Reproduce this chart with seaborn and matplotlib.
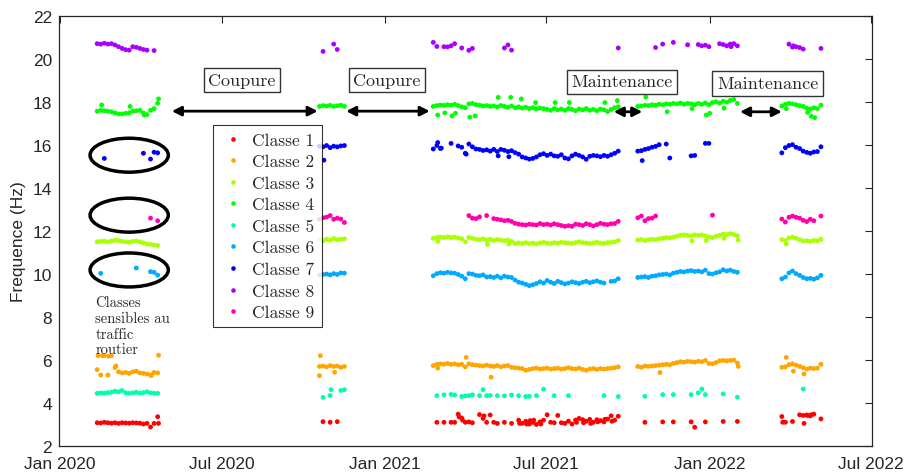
import numpy as np
import pandas as pd
import matplotlib
matplotlib.use("Agg")
import matplotlib.pyplot as plt
import matplotlib.dates as mdates
from matplotlib.patches import Ellipse
import seaborn as sns

NA = np.nan

# measurement campaigns: first day, number of samples (one sample every 4 days)
seg_starts = ["2020-02-12", "2020-10-19", "2021-02-24", "2021-10-12", "2022-03-23"]
seg_counts = [18, 8, 53, 29, 12]

class_names = ["Classe %d" % k for k in range(1, 10)]
colors = ["#ff0000", "#ffa500", "#aaff00", "#00ff00", "#00ffaa",
          "#00aaff", "#0000ff", "#aa00ff", "#ff00aa"]

# frequencies (Hz), one list per campaign
classe1 = [
    [3.08, 3.07, 3.10, 3.08, 3.06, 3.08, 3.05, 3.08, 3.07, 3.06, 3.08, 3.07, 3.06, 3.02, 3.05, 2.88, 3.05, 3.36],
    [NA, 3.13, NA, 3.10, NA, 3.13, NA, NA],
    [NA, 3.10, NA, 3.10, NA, 3.10, 3.10, 3.48, 3.30, 3.10,
     3.12, 3.08, NA, 3.46, 3.28, 3.10, 3.44, 3.10, 3.05, NA,
     3.10, NA, 3.05, NA, 3.20, 3.05, 3.15, 3.02, 3.10, 3.00,
     3.12, 3.20, 3.45, 3.10, 3.08, 3.42, 3.08, 3.05, 3.15, 3.02,
     3.20, 3.28, 3.22, 3.15, 3.24, 3.10, 3.22, 3.18, 3.12, 3.25,
     3.40, 3.20, 3.38],
    [NA, NA, 3.10, NA, NA, NA, NA, 3.12, NA, NA,
     3.12, NA, NA, NA, NA, 3.12, 2.87, NA, NA, 3.12,
     NA, NA, NA, NA, 3.14, NA, NA, NA, 3.14],
    [3.37, 3.10, NA, 3.14, NA, 3.45, 3.42, 3.44, 3.40, 3.48, NA, 3.26],
]
classe2 = [
    [5.55, 5.30, 6.20, 5.30, 6.20, 5.65, 5.45, 5.40, 5.42, 5.38, 5.45, 5.48, 5.40, 5.38, 5.35, 5.30, 5.42, 5.40],
    [5.70, 5.72, 5.68, 5.74, 5.70, 5.72, 5.66, 5.70],
    [5.74, 5.80, 5.82, 5.80, 5.84, 5.80, 5.82, 5.78, 5.80, 5.68,
     5.82, 5.78, 5.76, 5.74, 5.72, 5.76, 5.72, 5.70, 5.74, 5.68,
     5.72, 5.74, 5.66, 5.64, 5.62, 5.60, 5.52, 5.56, 5.60, 5.62,
     5.58, 5.60, 5.62, 5.58, 5.60, 5.62, 5.58, 5.60, 5.64, 5.60,
     5.58, 5.62, 5.56, 5.52, 5.58, 5.60, 5.56, 5.60, 5.58, 5.60,
     5.62, 5.64, 5.68],
    [5.70, 5.66, 5.72, 5.70, 5.72, 5.74, 5.76, 5.78, 5.80, 5.78,
     5.84, 5.88, 5.92, 5.90, 5.94, 5.92, 5.90, 5.94, 5.92, 5.98,
     5.84, 5.82, 5.88, 5.96, 5.98, 5.96, 5.98, 6.00, 5.86],
    [5.66, 5.68, 5.78, 5.82, 5.76, 5.70, 5.64, 5.58, 5.62, 5.60, 5.62, 5.80],
]
classe3 = [
    [11.50, 11.52, 11.53, 11.50, 11.54, 11.58, 11.56, 11.52, 11.50, 11.48, 11.52, 11.54, 11.50, 11.45, 11.40, 11.38, 11.35, 11.33],
    [11.60, 11.55, 11.62, 11.58, 11.65, 11.60, 11.62, 11.64],
    [11.66, 11.70, 11.72, 11.70, 11.74, 11.70, 11.72, 11.68, 11.64, 11.50,
     11.70, 11.66, 11.62, 11.60, 11.64, 11.58, 11.62, 11.56, 11.60, 11.58,
     11.55, 11.58, 11.52, 11.42, 11.45, 11.42, 11.46, 11.42, 11.44, 11.40,
     11.45, 11.48, 11.44, 11.42, 11.46, 11.44, 11.48, 11.46, 11.44, 11.42,
     11.46, 11.50, 11.46, 11.44, 11.42, 11.45, 11.48, 11.44, 11.42, 11.46,
     11.48, 11.50, 11.56],
    [11.58, 11.60, 11.56, 11.60, 11.62, 11.60, 11.64, 11.66, 11.70, 11.68,
     11.72, 11.76, 11.80, 11.82, 11.80, 11.78, 11.82, 11.80, 11.82, 11.78,
     11.72, 11.70, 11.76, 11.80, 11.86, 11.84, 11.88, 11.84, 11.78],
    [11.60, 11.56, 11.68, 11.72, 11.66, 11.60, 11.54, 11.55, 11.52, 11.56, 11.55, 11.62],
]
classe4 = [
    [17.58, 17.62, 17.60, 17.58, 17.55, 17.50, 17.45, 17.45, 17.48, 17.50, 17.58, 17.60, 17.62, 17.50, 17.42, 17.62, 17.70, 17.95],
    [17.80, 17.84, 17.82, 17.85, 17.80, 17.83, 17.86, 17.80],
    [17.80, 17.84, 17.86, 17.85, 17.88, 17.86, 17.90, 17.84, 17.78, 17.74,
     17.92, 17.94, 17.88, 17.86, 17.82, 17.84, 17.80, 17.82, 17.78, 17.84,
     17.80, 17.76, 17.82, 17.74, 17.78, 17.72, 17.76, 17.70, 17.74, 17.68,
     17.72, 17.70, 17.66, 17.62, 17.70, 17.64, 17.68, 17.62, 17.70, 17.66,
     17.60, 17.68, 17.64, 17.70, 17.62, 17.66, 17.60, 17.68, 17.64, 17.56,
     17.66, 17.74, 17.78],
    [17.80, 17.82, 17.85, 17.84, 17.88, 17.86, 17.90, 17.88, 17.92, 17.90,
     17.94, 17.92, 17.96, 17.90, 17.94, 17.92, 17.88, 17.94, 17.90, 17.96,
     17.88, 17.98, 18.02, 17.96, 18.04, 18.00, 18.08, 18.12, 17.94],
    [17.82, 17.90, 17.94, 17.92, 17.88, 17.84, 17.80, 17.72, 17.68, 17.74, 17.70, 17.86],
]
classe5 = [
    [4.45, 4.47, 4.45, 4.48, 4.50, 4.55, 4.52, 4.58, 4.48, 4.45, 4.47, 4.50, 4.46, 4.48, 4.52, 4.47, 4.45, 4.45],
    [NA, 4.26, NA, 4.35, NA, NA, 4.58, 4.62],
    [NA, 4.34, NA, 4.38, NA, 4.40, 4.37, NA, 4.30, 4.33,
     4.34, 4.38, NA, 4.34, 4.62, 4.34, 4.35, NA, 4.34, NA,
     4.33, NA, 4.37, NA, 4.34, NA, 4.30, 4.31, NA, 4.34,
     NA, 4.64, NA, NA, 4.34, NA, NA, NA, 4.34, NA]
    + [NA] * 8 + [4.34, NA, NA, NA, 4.30],
    [NA, NA, 4.31, NA, NA, NA, NA, 4.39, NA, NA,
     4.39, NA, NA, NA, NA, 4.39, NA, 4.47, 4.65, 4.39,
     NA, NA, NA, NA, 4.42, NA, NA, NA, 4.27],
    [NA] * 6 + [4.65] + [NA] * 5,
]
classe6 = [
    [NA, 10.03, NA, NA, NA, NA, NA, NA, NA, NA, NA, 10.28, NA, NA, NA, 10.11, 10.08, 9.95],
    [9.95, 9.98, 10.00, 9.96, 10.02, 9.98, 10.05, 10.04],
    [9.92, 10.02, 10.06, 10.04, 10.08, 10.05, 10.04, 9.98, 9.90, 9.78,
     10.02, 10.00, 9.94, 9.92, 9.96, 9.86, 9.88, 9.84, 9.90, 9.82,
     9.90, 9.86, 9.84, 9.72, 9.62, 9.58, 9.52, 9.46, 9.50, 9.56,
     9.64, 9.58, 9.70, 9.62, 9.56, 9.66, 9.60, 9.54, 9.58, 9.64,
     9.60, 9.56, 9.62, 9.66, 9.60, 9.64, 9.68, 9.62, 9.58, NA,
     9.66, 9.68, 9.78],
    [9.84, 9.86, 9.88, 9.84, 9.90, 9.92, 9.96, 9.98, 10.00, 9.96,
     10.04, 10.08, 10.12, 10.10, 10.14, 10.16, 10.12, 10.14, 10.10, 10.18,
     10.02, 10.00, 10.06, 10.10, 10.20, 10.14, 10.18, 10.12, 10.08],
    [9.78, 9.86, 10.05, 10.14, 10.02, 9.94, 9.84, 9.78, 9.80, 9.76, 9.82, 9.94],
]
classe7 = [
    [NA, NA, 15.38] + [NA] * 10 + [15.62, NA, 15.35, 15.67, 15.64],
    [15.95, 15.92, 15.98, 15.88, 15.95, 15.92, 15.96, 15.98],
    [15.82, 15.98, 15.84, NA, NA, 16.08, NA, 15.96, 15.90, 15.62,
     16.05, 15.92, 15.82, 15.80, 15.75, 15.78, 15.72, 15.80, 15.70, 15.80,
     15.76, 15.70, 15.74, 15.65, 15.58, 15.45, 15.40, 15.35, 15.38, 15.45,
     15.55, 15.60, 15.52, 15.58, 15.50, 15.48, 15.55, 15.40, 15.36, 15.50,
     15.58, 15.52, 15.45, 15.34, 15.48, 15.52, 15.50, 15.46, 15.52, 15.48,
     15.55, 15.62, 15.72],
    [15.72, 15.74, 15.80, 15.84, 15.90, 15.94, 16.02, NA, 16.05, 15.40,
     NA, NA, NA, NA, NA, 15.50, 15.52, NA, NA, 16.08,
     16.08] + [NA] * 8,
    [15.64, 15.88, 15.98, 16.02, 15.90, 15.84, 15.72, 15.66, 15.62, 15.68, 15.70, 15.92],
]
classe8 = [
    [20.72, 20.70, 20.74, 20.70, 20.72, 20.66, 20.58, 20.50, 20.44, 20.42, 20.58, 20.55, 20.50, 20.45, 20.42, NA, 20.40, NA],
    [NA, 20.36, NA, NA, 20.70, 20.45, NA, NA],
    [20.78, 20.59, NA, 20.58, 20.57, 20.62, 20.72, NA, 20.52, NA, 20.41, 20.50]
    + [NA] * 8 + [20.52, 20.66, 20.42] + [NA] * 29 + [20.52],
    [NA] * 5 + [20.54, NA, 20.70, NA, NA, 20.78, NA, NA, NA, 20.67, NA, NA, 20.68,
                20.62, 20.65, 20.58, NA, NA, 20.72, 20.68, 20.62, 20.70, 20.72, 20.62],
    [NA, NA, 20.70, 20.56, 20.58, 20.54, 20.47, NA, NA, NA, NA, 20.50],
]
classe9 = [
    [NA] * 15 + [12.60, NA, 12.48],
    [12.55, 12.62, 12.65, 12.72, 12.55, 12.60, 12.56, 12.40],
    [NA] * 10
    + [12.72, 12.60, 12.58, 12.66, NA, 12.72, NA, 12.58, 12.55, 12.52,
       12.48, 12.50, 12.45, 12.36, 12.32, 12.30, 12.28, 12.32, 12.30, 12.28,
       12.35, 12.30, 12.32, 12.28, 12.34, 12.30, 12.26, 12.22, 12.25, 12.22,
       12.32, 12.30, 12.26, 12.34, 12.30, 12.24, 12.30, 12.36, 12.32, 12.30,
       12.34, 12.35, 12.45],
    [12.62, 12.70, 12.48, 12.58, 12.60, 12.70] + [NA] * 15 + [12.74] + [NA] * 7,
    [12.56, 12.42, 12.64, 12.70, 12.64, 12.60, 12.50, 12.44, 12.55, 12.48, NA, 12.70],
]

# scattered measurements in between (date, class, Hz)
extra_points = [
    ("2020-02-17", 4, 17.87), ("2020-03-20", 4, 17.80), ("2020-04-05", 4, 17.40), ("2020-04-21", 4, 18.15),
    ("2020-02-13", 2, 6.20), ("2020-02-18", 2, 6.20), ("2020-02-25", 2, 6.18), ("2020-03-04", 2, 5.72),
    ("2020-04-13", 2, 5.28), ("2020-04-21", 2, 6.22), ("2020-04-21", 1, 3.05),
    ("2020-10-24", 7, 15.30), ("2020-10-20", 2, 6.20), ("2020-10-19", 2, 5.27), ("2020-11-05", 2, 5.43),
    ("2020-11-01", 5, 4.62),
    ("2021-03-01", 4, 17.40), ("2021-03-09", 4, 17.50), ("2021-03-17", 4, 17.36), ("2021-03-21", 4, 17.48),
    ("2021-04-06", 4, 17.30), ("2021-04-12", 4, 17.36), ("2021-05-08", 4, 18.22), ("2021-05-22", 4, 18.22),
    ("2021-06-03", 4, 18.15), ("2021-06-19", 4, 17.98), ("2021-07-11", 4, 17.98), ("2021-07-27", 4, 17.98),
    ("2021-09-05", 4, 17.98), ("2021-09-19", 4, 18.07),
    ("2021-03-01", 7, 16.12), ("2021-03-05", 7, 15.86), ("2021-04-02", 7, 15.58), ("2021-05-08", 7, 15.50),
    ("2021-05-20", 7, 15.46),
    ("2021-03-01", 3, 11.52), ("2021-04-26", 3, 11.38), ("2021-05-20", 3, 11.40),
    ("2021-03-01", 2, 5.62), ("2021-04-02", 2, 6.12), ("2021-04-30", 2, 5.20),
    ("2021-03-25", 1, 3.35), ("2021-03-29", 1, 3.20), ("2021-04-22", 1, 3.40), ("2021-06-01", 1, 3.05),
    ("2021-06-09", 1, 3.02), ("2021-06-13", 1, 3.18), ("2021-06-17", 1, 3.20), ("2021-06-25", 1, 3.02),
    ("2021-08-04", 1, 3.10), ("2021-08-12", 1, 3.08), ("2021-08-20", 1, 3.05), ("2021-08-28", 1, 3.12),
    ("2021-09-05", 1, 3.24), ("2021-09-13", 1, 3.15),
    ("2021-10-21", 4, 18.24), ("2021-11-14", 4, 17.55), ("2021-12-12", 4, 17.70), ("2021-12-28", 4, 17.40),
    ("2022-01-01", 4, 17.48), ("2022-01-17", 4, 17.72), ("2021-10-17", 7, 15.28),
    ("2021-12-12", 3, 11.55), ("2021-12-28", 3, 11.56), ("2022-01-17", 3, 11.66), ("2022-02-02", 3, 11.58),
    ("2021-11-06", 2, 5.42), ("2022-02-02", 2, 5.70), ("2022-01-25", 8, 20.58),
    ("2022-04-05", 8, 20.62), ("2022-03-28", 4, 17.70), ("2022-04-21", 4, 17.52), ("2022-04-25", 4, 17.34),
    ("2022-04-29", 4, 17.28), ("2022-03-28", 3, 11.40), ("2022-03-28", 2, 6.12), ("2022-04-05", 2, 5.48),
    ("2022-04-17", 2, 5.35), ("2022-03-24", 1, 3.10), ("2022-04-17", 1, 3.05), ("2022-04-21", 1, 3.42),
    ("2022-04-25", 1, 3.45),
]

all_classes = [classe1, classe2, classe3, classe4, classe5, classe6, classe7, classe8, classe9]

# build long table
seg_dates = [pd.date_range(s, periods=n, freq="4D") for s, n in zip(seg_starts, seg_counts)]
rows = []
for name, segs in zip(class_names, all_classes):
    for d, v in zip(seg_dates, segs):
        assert len(d) == len(v), (name, len(d), len(v))
        rows += list(zip(d, v, [name] * len(d)))
for d, k, v in extra_points:
    rows.append((pd.Timestamp(d), v, class_names[k - 1]))
df = pd.DataFrame(rows, columns=["date", "freq", "classe"]).dropna()

sns.set_style("white")
fig, ax = plt.subplots(figsize=(9.07, 4.77), dpi=100)
fig.subplots_adjust(left=0.065, right=0.961, bottom=0.063, top=0.964)

sns.scatterplot(data=df, x="date", y="freq", hue="classe", hue_order=class_names,
                palette=colors, s=12, linewidth=0, ax=ax, legend=False)

# axes formatting (matlab-like box)
ax.set_xlim(pd.Timestamp("2019-12-31"), pd.Timestamp("2022-07-02"))
ax.set_ylim(2, 22)
ax.set_yticks(range(2, 23, 2))
ax.xaxis.set_major_locator(mdates.MonthLocator(bymonth=[1, 7]))
ax.xaxis.set_major_formatter(mdates.DateFormatter("%b %Y"))
ax.set_xlabel("")
ax.set_ylabel("Frequence (Hz)", fontsize=12.5, family="Liberation Sans", color="#262626")
ax.yaxis.set_label_coords(-0.040, 0.477)
ax.tick_params(direction="in", top=True, right=True, length=5, width=0.8, color="#262626",
               labelsize=12.5, labelcolor="#262626")
ax.tick_params(axis="x", pad=7)
ax.tick_params(axis="y", pad=5)
for lab in ax.get_xticklabels() + ax.get_yticklabels():
    lab.set_family("Liberation Sans")
for sp in ax.spines.values():
    sp.set_color("#262626")
    sp.set_linewidth(0.9)

# legend
handles = [plt.Line2D([], [], ls="", marker="o", ms=3.3, mew=0, color=c) for c in colors]
leg = ax.legend(handles, class_names, loc="upper left", bbox_to_anchor=(0.189, 0.746),
                prop={"family": "cmr10", "size": 12.5}, frameon=True, fancybox=False,
                edgecolor="black", borderaxespad=0, borderpad=0.4, handlelength=1.6,
                handletextpad=0.3, labelspacing=0.36)
leg.get_frame().set_linewidth(0.8)

# annotations
box = dict(boxstyle="square,pad=0.25", fc="white", ec="#333333", lw=1)
for txt, d, y in [("Coupure", "2020-07-24", 19.02), ("Coupure", "2021-01-03", 19.02),
                  ("Maintenance", "2021-09-24", 18.95), ("Maintenance", "2022-03-07", 18.86)]:
    ax.text(pd.Timestamp(d), y, txt, ha="center", va="center", family="cmr10", fontsize=13, bbox=box)

for d1, d2, y in [("2020-05-06", "2020-10-17", 17.58), ("2020-11-18", "2021-02-20", 17.58),
                  ("2021-09-15", "2021-10-17", 17.55), ("2022-02-04", "2022-03-23", 17.55)]:
    ax.annotate("", xy=(pd.Timestamp(d2), y), xytext=(pd.Timestamp(d1), y),
                arrowprops=dict(arrowstyle="<|-|>,head_length=0.55,head_width=0.28", lw=2,
                                color="black", shrinkA=0, shrinkB=0, mutation_scale=10))

center = mdates.date2num(pd.Timestamp("2020-03-19"))
for yc in [15.53, 12.74, 10.19]:
    ax.add_patch(Ellipse((center, yc), width=88, height=1.58, fill=False, lw=2.5, ec="black"))

ax.text(pd.Timestamp("2020-02-10"), 9.02, "Classes\nsensibles au\ntraffic\nroutier",
        ha="left", va="top", family="cmr10", fontsize=10.5, linespacing=1.2)

plt.savefig("out.png", dpi=100)
